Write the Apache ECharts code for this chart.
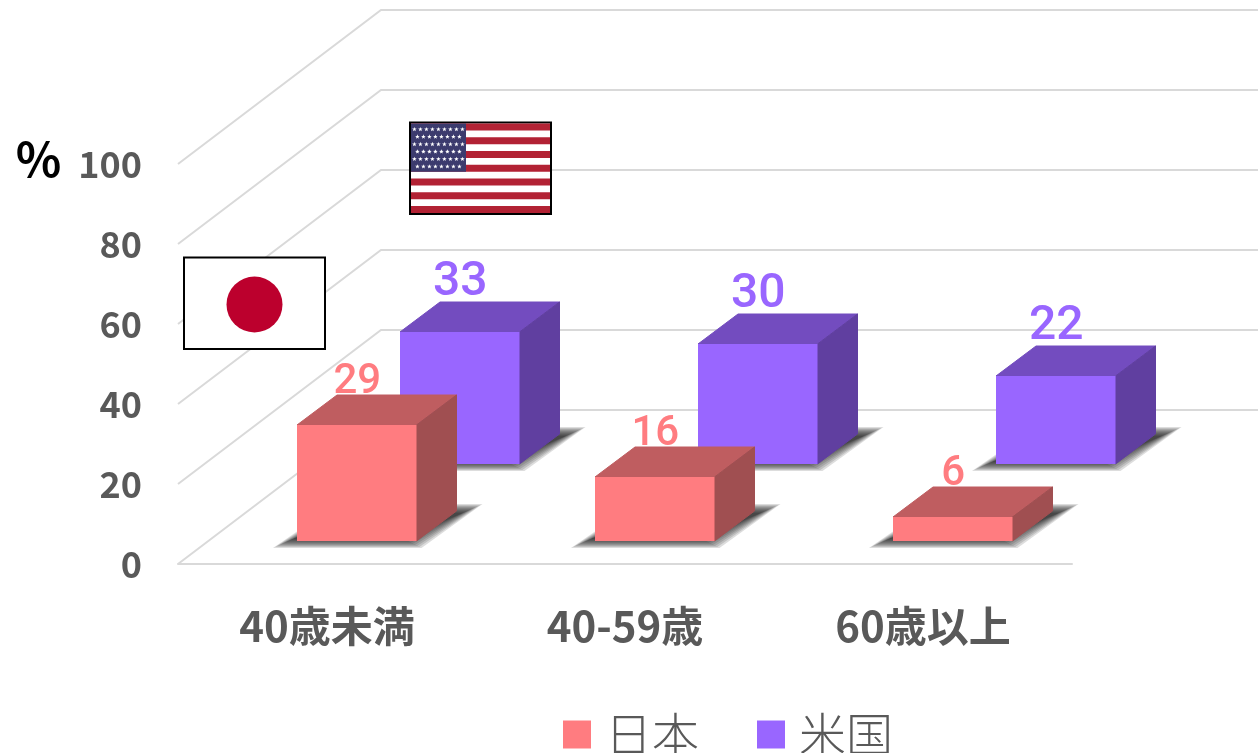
<!DOCTYPE html>
<html><head><meta charset="utf-8">
<style>html,body{margin:0;padding:0;background:#fff;overflow:hidden}#c{width:1258px;height:753px}</style>
<script src="https://cdn.jsdelivr.net/npm/echarts@6/dist/echarts.min.js"></script>
</head><body><div id="c"></div>
<script>
const categories = ['40歳未満', '40-59歳', '60歳以上'];
const japan = [29, 16, 6];
const usa = [33, 30, 22];
const gridTicks = [0, 20, 40, 60, 80, 100];

const CJK = '"Noto Sans CJK JP","Noto Sans",sans-serif';
const GRAY = '#595959';
const WALL = { dx: 203, dy: -154 };
const BAR = { w: 119.5, dx: 40, dy: -30 };

function shadowLayers(x, y, w) {
  const out = [];
  for (let k = 0; k < 10; k++) {
    const yb = y + 7 - k, yt = y - 37 + k, ix = k * 2.2;
    out.push({ type: 'polygon',
      shape: { points: [[x - 24 + ix, yb], [x + w + 5 - ix, yb], [x + w + 66 - ix, yt], [x + 40 + ix, yt]] },
      style: { fill: 'rgba(30,30,30,0.15)' } });
  }
  return out;
}

function barRender(cfg) {
  return function (params, api) {
    const idx = api.value(0), val = api.value(1);
    const base = api.coord([idx, 0]), topPt = api.coord([idx, val]);
    const x = base[0] + cfg.ox, y = base[1] + cfg.oy, t = topPt[1] + cfg.oy;
    const w = BAR.w, dx = BAR.dx, dy = BAR.dy;
    const thin = { lineWidth: 1 };
    return {
      type: 'group',
      children: shadowLayers(x, y, w).concat([
        { type: 'polygon', shape: { points: [[x, t], [x + dx, t + dy], [x + w + dx, t + dy], [x + w, t]] },
          style: { fill: cfg.top, stroke: cfg.top, ...thin } },
        { type: 'polygon', shape: { points: [[x + w, t], [x + w + dx, t + dy], [x + w + dx, y + dy], [x + w, y]] },
          style: { fill: cfg.side, stroke: cfg.side, ...thin } },
        { type: 'rect', shape: { x: x, y: t, width: w, height: y - t },
          style: { fill: cfg.front } },
        { type: 'text', style: { text: String(val), x: x + w / 2 + 0.5, y: t + dy - cfg.fs / 2 + cfg.lift, align: 'center', verticalAlign: 'middle',
            fill: cfg.front, font: '500 ' + cfg.fs + 'px Roboto,"Noto Sans",sans-serif' } }
      ])
    };
  };
}

// decorative flags
const flagParts = [];
(function () {
  const X = 410, Y = 122.5, W = 141, H = 91.5;
  flagParts.push({ type: 'rect', shape: { x: X, y: Y, width: W, height: H }, style: { fill: '#fff', stroke: '#000', lineWidth: 2 }, z: 50 });
  const sh = (H - 2) / 13;
  for (let i = 0; i < 13; i += 2) {
    flagParts.push({ type: 'rect', shape: { x: X + 1, y: Y + 1 + i * sh, width: W - 2, height: sh }, style: { fill: '#B22234' }, z: 51 });
  }
  const cx = X + 1, cy = Y + 1, cw = 55, ch = 7 * sh;
  flagParts.push({ type: 'rect', shape: { x: cx, y: cy, width: cw, height: ch }, style: { fill: '#3C3B6E' }, z: 52 });
  for (let r = 0; r < 6; r++) {
    const n = r % 2 ? 8 : 9;
    for (let c = 0; c < n; c++) {
      const sx = cx + 3.4 + (r % 2 ? 3 : 0) + c * 6, sy = cy + 5.8 + r * 7.45;
      const pts = [];
      for (let k = 0; k < 10; k++) {
        const rad = k % 2 ? 1 : 2.4, a = -Math.PI / 2 + k * Math.PI / 5;
        pts.push([sx + rad * Math.cos(a), sy + rad * Math.sin(a)]);
      }
      flagParts.push({ type: 'polygon', shape: { points: pts }, style: { fill: '#fff' }, z: 53 });
    }
  }
  flagParts.push({ type: 'rect', shape: { x: 184, y: 257.5, width: 141, height: 91.5 }, style: { fill: '#fff', stroke: '#000', lineWidth: 2 }, z: 50 });
  flagParts.push({ type: 'circle', shape: { cx: 254.5, cy: 304.5, r: 28 }, style: { fill: '#BC002D' }, z: 51 });
  flagParts.push({ type: 'text', style: { text: '％', x: 38.5, y: 159, align: 'center', verticalAlign: 'middle', fill: '#000', font: 'bold 47px ' + CJK }, z: 50 });
})();

const chart = echarts.init(document.getElementById('c'), null, { renderer: 'canvas', width: 1258, height: 753 });
chart.setOption({
  animation: false,
  backgroundColor: '#fff',
  grid: { left: 178, top: 164, width: 894, height: 400, containLabel: false },
  xAxis: {
    type: 'category', data: categories,
    axisTick: { show: false },
    axisLine: { lineStyle: { color: '#D9D9D9', width: 2 } },
    axisLabel: { color: GRAY, fontFamily: CJK, fontWeight: 'bold', fontSize: 42, margin: 41 }
  },
  yAxis: {
    type: 'value', min: 0, max: 100, interval: 20,
    axisLine: { show: false }, axisTick: { show: false }, splitLine: { show: false },
    axisLabel: { color: GRAY, fontFamily: CJK, fontWeight: 'bold', fontSize: 36, margin: 36 }
  },
  legend: {
    data: ['日本', '米国'], left: 563, top: 711, itemWidth: 28, itemHeight: 28, itemGap: 58, padding: 0,
    icon: 'rect',
    textStyle: { color: GRAY, fontFamily: CJK, fontWeight: 300, fontSize: 47, padding: [12, 0, 0, 9] }
  },
  graphic: flagParts,
  series: [
    {
      type: 'custom', name: 'walls', silent: true, clip: false, z: 1,
      data: gridTicks.map(v => [0, v]),
      encode: { x: 0, y: 1 },
      renderItem: function (params, api) {
        const p = api.coord([0, api.value(1)]);
        const band = api.size([1, 0])[0];
        const x0 = p[0] - band / 2, y0 = p[1];
        return { type: 'polyline',
          shape: { points: [[x0, y0], [x0 + WALL.dx, y0 + WALL.dy], [x0 + band * 3 + WALL.dx, y0 + WALL.dy]] },
          style: { stroke: '#D9D9D9', lineWidth: 2, fill: null } };
      }
    },
    {
      type: 'custom', name: '米国', clip: false, z: 3, itemStyle: { color: '#9966FF' },
      data: usa.map((v, i) => [i, v]), encode: { x: 0, y: 1 },
      renderItem: barRender({ ox: 73, oy: -100, front: '#9966FF', top: '#734CBF', side: '#603FA0', fs: 48, lift: 5 })
    },
    {
      type: 'custom', name: '日本', clip: false, z: 4, itemStyle: { color: '#FF7C80' },
      data: japan.map((v, i) => [i, v]), encode: { x: 0, y: 1 },
      renderItem: barRender({ ox: -30, oy: -23, front: '#FF7C80', top: '#BF5D60', side: '#A04F51', fs: 42, lift: 8 })
    }
  ]
});
</script></body></html>
